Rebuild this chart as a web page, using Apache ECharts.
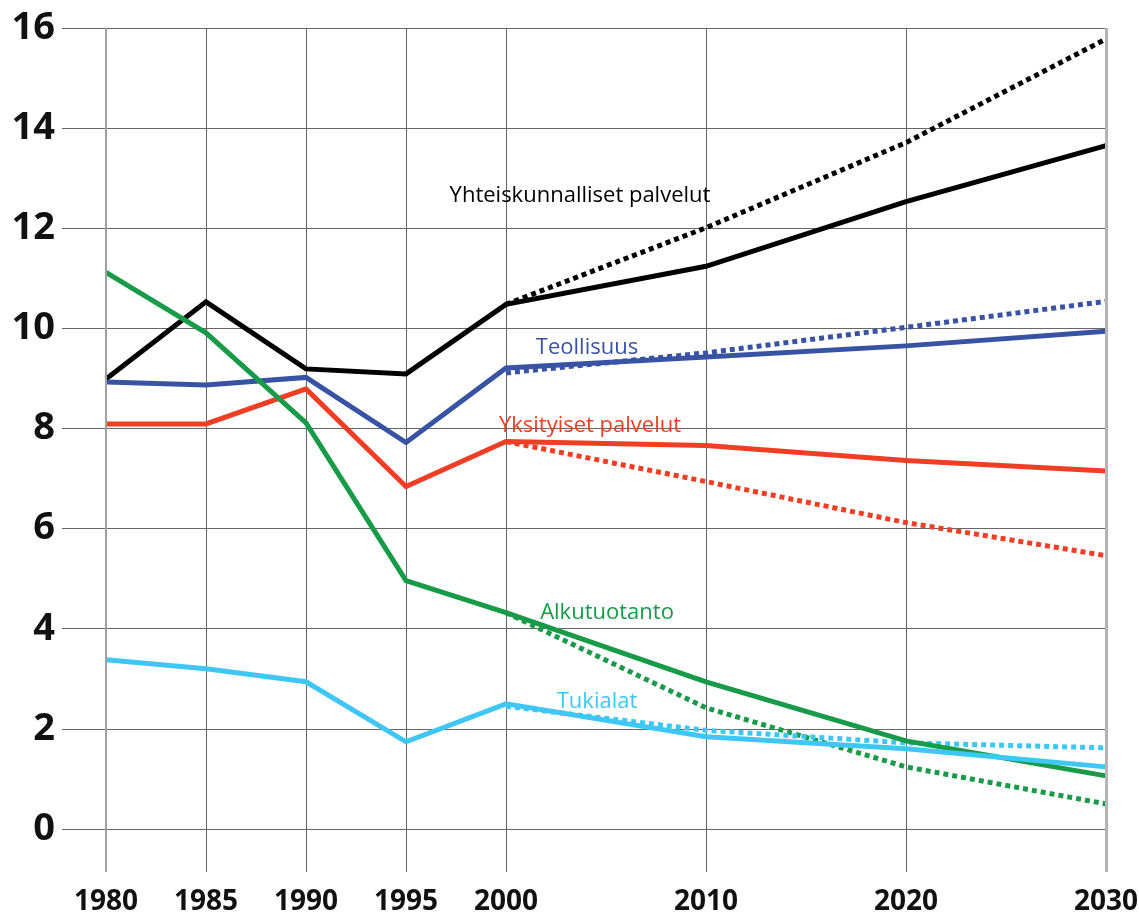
<!DOCTYPE html>
<html>
<head>
<meta charset="utf-8">
<script src="https://cdn.jsdelivr.net/npm/echarts@6/dist/echarts.min.js"></script>
<style>
html, body { margin: 0; padding: 0; background: #fff; }
#chart { width: 1139px; height: 912px; }
</style>
</head>
<body>
<div id="chart"></div>
<script>
// vuodet
var years = [1980, 1985, 1990, 1995, 2000, 2010, 2020, 2030];
var forecastYears = [2000, 2010, 2020, 2030];
var yTicks = [0, 2, 4, 6, 8, 10, 12, 14, 16];
var edgeYears = [1980, 2030];

// toteutunut + perusura
var yhteiskunnalliset = [8.99, 10.53, 9.19, 9.09, 10.48, 11.24, 12.53, 13.65];
var teollisuus = [8.93, 8.87, 9.02, 7.72, 9.21, 9.43, 9.65, 9.94];
var yksityiset = [8.09, 8.09, 8.79, 6.84, 7.74, 7.66, 7.36, 7.15];
var alkutuotanto = [11.12, 9.91, 8.11, 4.96, 4.32, 2.94, 1.76, 1.06];
var tukialat = [3.38, 3.2, 2.94, 1.74, 2.5, 1.84, 1.6, 1.24];

// vaihtoehtoinen ura (pisteviiva)
var yhteiskunnallisetAlt = [10.48, 12.01, 13.71, 15.78];
var teollisuusAlt = [9.11, 9.51, 10.02, 10.54];
var yksityisetAlt = [7.74, 6.94, 6.12, 5.46];
var alkutuotantoAlt = [4.32, 2.42, 1.24, 0.5];
var tukialatAlt = [2.45, 1.97, 1.72, 1.62];

// tekstit
var labelNames = ['Yhteiskunnalliset palvelut', 'Teollisuus', 'Yksityiset palvelut', 'Alkutuotanto', 'Tukialat'];
var labelCoords = [[2003.7, 12.65], [2004.05, 9.61], [2004.2, 8.05], [2005.05, 4.32], [2004.55, 2.54]];

var colors = ['#000000', '#3953a4', '#ef3e24', '#179b48', '#3ec7f4'];
var mainData = [yhteiskunnalliset, teollisuus, yksityiset, alkutuotanto, tukialat];
var altData = [yhteiskunnallisetAlt, teollisuusAlt, yksityisetAlt, alkutuotantoAlt, tukialatAlt];

function pairs(xs, vs) {
	return xs.map(function (x, i) { return [x, vs[i]]; });
}

var series = [];
for (var i = 0; i < 5; i++) {
	series.push({
		name: labelNames[i] + ' (ennuste)',
		type: 'line',
		data: pairs(forecastYears, altData[i]),
		showSymbol: false,
		z: 3,
		lineStyle: { color: colors[i], width: 5, type: [5, 4], cap: 'butt' }
	});
}
for (var j = 0; j < 5; j++) {
	series.push({
		name: labelNames[j],
		type: 'line',
		data: pairs(years, mainData[j]),
		showSymbol: false,
		z: 4,
		lineStyle: { color: colors[j], width: 5, join: 'miter' },
		markPoint: {
			symbol: 'circle',
			symbolSize: 0,
			silent: true,
			label: {
				show: true,
				position: 'inside',
				formatter: labelNames[j],
				color: colors[j],
				fontFamily: 'Open Sans',
				fontSize: 22
			},
			data: [{ coord: labelCoords[j] }]
		}
	});
}

// reunaviivat (vaaleampi harmaa)
series.push({
	name: 'reunat',
	type: 'line',
	data: [],
	z: 2,
	markLine: {
		silent: true,
		symbol: 'none',
		label: { show: false },
		data: [
			{ xAxis: edgeYears[0], lineStyle: { color: '#a0a0a0', width: 2, type: 'solid' } },
			{ xAxis: edgeYears[1], lineStyle: { color: '#b4b4b4', width: 3, type: 'solid' } }
		]
	}
});

var chart = echarts.init(document.getElementById('chart'));
chart.setOption({
	backgroundColor: '#fff',
	animation: false,
	grid: { left: 62, right: 33, top: 28, bottom: 40, outerBoundsMode: 'none', containLabel: false },
	xAxis: {
		type: 'value',
		min: 1977.8,
		max: 2030,
		axisLine: { show: false },
		axisTick: { show: false, customValues: years },
		axisLabel: {
			customValues: years,
			margin: 16,
			color: '#111',
			fontFamily: 'Open Sans',
			fontWeight: 'bold',
			fontSize: 28,
			formatter: function (v) { return String(v); }
		},
		splitLine: { show: true, lineStyle: { color: '#666', width: 1 } }
	},
	yAxis: {
		type: 'value',
		min: -0.86,
		max: 16,
		axisLine: { show: false },
		axisTick: { show: false, customValues: yTicks },
		axisLabel: {
			customValues: yTicks,
			margin: 7,
			color: '#111',
			fontFamily: 'Open Sans',
			fontWeight: 'bold',
			fontSize: 38
		},
		splitLine: { show: true, lineStyle: { color: '#666', width: 1 } }
	},
	series: series
});
</script>
</body>
</html>
